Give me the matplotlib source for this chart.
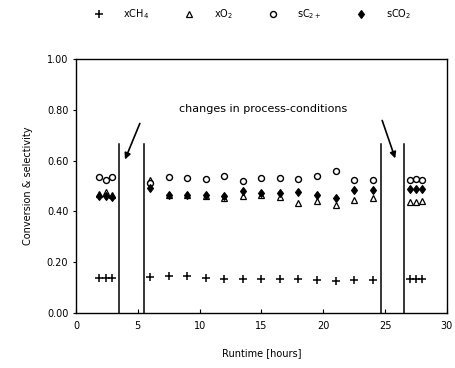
import numpy as np
import matplotlib
matplotlib.use("Agg")
import matplotlib.pyplot as plt

# runtime in hours: start group, steady run, end group
t_start = [1.9, 2.4, 2.9]
t_mid = [6.0, 7.5, 9.0, 10.5, 12.0, 13.5, 15.0, 16.5, 18.0, 19.5, 21.0, 22.5, 24.0]
t_end = [27.0, 27.5, 28.0]

xch4_start = [0.138, 0.138, 0.138]
xch4_mid = [0.140, 0.144, 0.144, 0.136, 0.134, 0.134, 0.134, 0.134, 0.134, 0.130, 0.125, 0.130, 0.130]
xch4_end = [0.133, 0.133, 0.133]

xo2_start = [0.470, 0.475, 0.465]
xo2_mid = [0.525, 0.465, 0.465, 0.462, 0.453, 0.460, 0.465, 0.457, 0.433, 0.440, 0.425, 0.445, 0.453]
xo2_end = [0.437, 0.437, 0.440]

sc2_start = [0.535, 0.524, 0.535]
sc2_mid = [0.510, 0.535, 0.531, 0.528, 0.539, 0.520, 0.531, 0.531, 0.528, 0.539, 0.559, 0.524, 0.524]
sc2_end = [0.522, 0.527, 0.522]

sco2_start = [0.460, 0.462, 0.455]
sco2_mid = [0.490, 0.465, 0.465, 0.465, 0.461, 0.480, 0.473, 0.472, 0.476, 0.465, 0.453, 0.484, 0.484]
sco2_end = [0.487, 0.487, 0.487]

change_lines = [3.5, 5.5, 24.65, 26.5]

t = t_start + t_mid + t_end
xch4 = xch4_start + xch4_mid + xch4_end
xo2 = xo2_start + xo2_mid + xo2_end
sc2 = sc2_start + sc2_mid + sc2_end
sco2 = sco2_start + sco2_mid + sco2_end

plt.rcParams['font.family'] = ['DejaVu Sans']
fig = plt.figure(figsize=(4.55, 3.68), dpi=100)
ax = fig.add_axes([0.167, 0.1495, 0.815, 0.6905])

ax.plot(t, xch4, ls='none', marker='+', ms=5.5, mew=1.1, color='k', label='xCH$_4$')
ax.plot(t, xo2, ls='none', marker='^', ms=4.2, mew=0.9, mfc='white', color='k', label='xO$_2$')
ax.plot(t, sc2, ls='none', marker='o', ms=4.3, mew=1.0, mfc='white', color='k', label='sC$_{2+}$')
ax.plot(t, sco2, ls='none', marker='d', ms=4.5, mew=0.8, color='k', label='sCO$_2$')

for xl in change_lines:
    ax.plot([xl, xl], [0, 0.665], color='k', lw=1.1)

ax.annotate('', xy=(3.88, 0.594), xytext=(5.25, 0.756),
            arrowprops=dict(arrowstyle='-|>', color='k', lw=1.2, mutation_scale=9))
ax.annotate('', xy=(25.9, 0.598), xytext=(24.7, 0.768),
            arrowprops=dict(arrowstyle='-|>', color='k', lw=1.2, mutation_scale=9))
ax.text(15.1, 0.803, 'changes in process-conditions', ha='center', va='center', fontsize=8)

ax.set_xlim(0, 30)
ax.set_ylim(0, 1.0)
ax.set_xticks([0, 5, 10, 15, 20, 25, 30])
ax.set_yticks([0, 0.2, 0.4, 0.6, 0.8, 1.0])
ax.set_yticklabels(['0.00', '0.20', '0.40', '0.60', '0.80', '1.00'])
ax.tick_params(axis='x', direction='in', length=3, labelsize=7, pad=6)
ax.tick_params(axis='y', direction='out', length=2, labelsize=7)
for s in ax.spines.values():
    s.set_linewidth(1.0)

ax.set_xlabel('Runtime [hours]', fontsize=7, labelpad=12)
ax.set_ylabel('Conversion & selectivity', fontsize=7, labelpad=10)

fig.legend(loc='center', bbox_to_anchor=(0.555, 0.962), ncol=4, frameon=False,
           fontsize=7, handletextpad=2.0, columnspacing=3.6, handlelength=1.0)

fig.savefig('out.png', dpi=100)
